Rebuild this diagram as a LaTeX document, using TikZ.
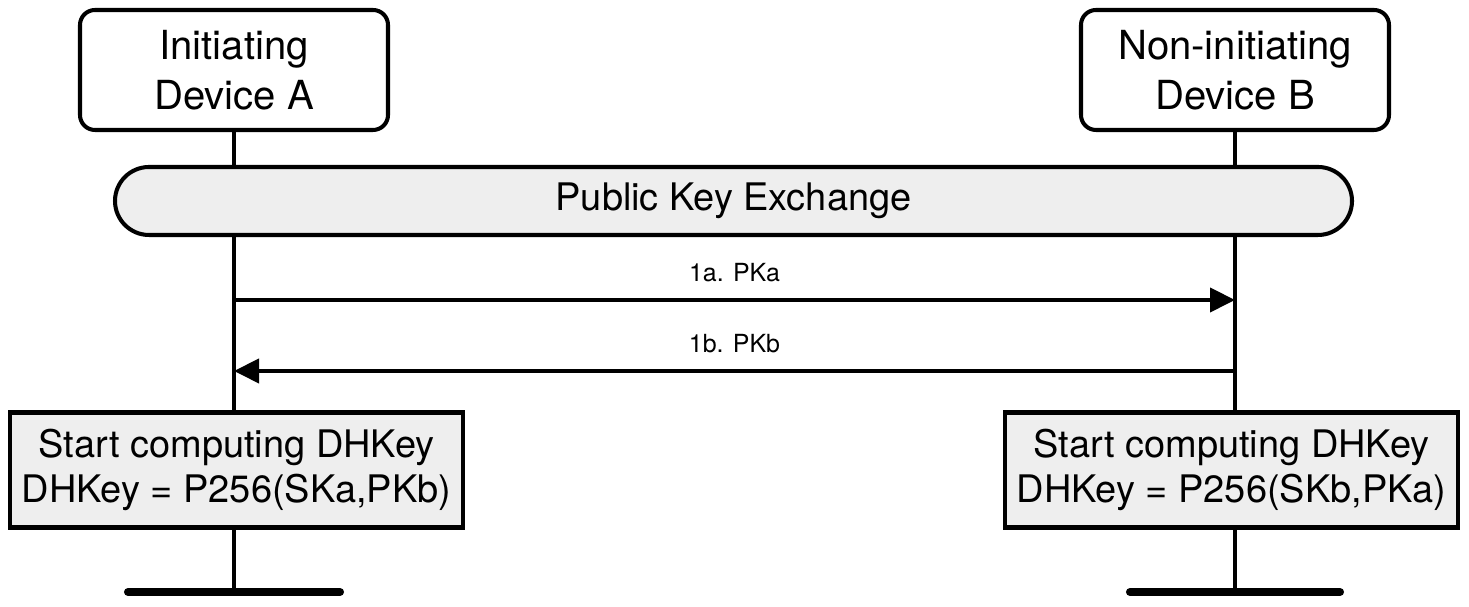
\documentclass[tikz,border=0pt]{standalone}
\usepackage{fontspec}
\setmainfont{TeX Gyre Heros}
\usetikzlibrary{arrows.meta}
\definecolor{boxgrey}{HTML}{EEEEEE}
\tikzset{
  device/.style={draw, line width=1.15pt, rounded corners=0.15cm, fill=white,
    minimum width=3.08cm, minimum height=1.2cm, align=center,
    font=\fontsize{11.4}{14.2}\selectfont},
  phase/.style={draw, line width=1.15pt, rounded corners=0.34cm, fill=boxgrey,
    minimum width=12.37cm, minimum height=0.68cm,
    font=\fontsize{10.8}{14.2}\selectfont},
  action/.style={draw, line width=1.15pt, fill=boxgrey,
    minimum width=4.53cm, minimum height=1.15cm, align=center,
    font=\fontsize{10.8}{12.8}\selectfont},
  msg/.style={line width=1.15pt, -{Triangle[length=0.25cm,width=0.24cm]}},
  lbl/.style={font=\fontsize{7.1}{9}\selectfont, above=0.04cm},
  lifeline/.style={line width=1.15pt},
  stopbar/.style={line width=2.3pt, line cap=round}
}
\begin{document}
\begin{tikzpicture}
\useasboundingbox (0,0) rectangle (14.69,6.07);
% lifelines
\coordinate (endA) at (2.34,0.15);
\coordinate (endB) at (12.35,0.15);
\draw[lifeline] (2.34,5.37) -- (endA);
\draw[lifeline] (12.35,5.37) -- (endB);
% participants
\node[device] (devA) at (2.34,5.37) {Initiating\\Device A};
\node[device] (devB) at (12.35,5.37) {Non-initiating\\Device B};
\node[phase] (pke) at (7.335,4.06) {Public Key Exchange};
% messages
\coordinate (a1) at (2.34,3.07);
\coordinate (b1) at (12.35,3.07);
\coordinate (a2) at (2.34,2.36);
\coordinate (b2) at (12.35,2.36);
\draw[msg] (a1) to node [lbl] {1a. PKa} (b1);
\draw[msg] (b2) to node [lbl] {1b. PKb} (a2);
% computations
\node[action] (compA) at (2.365,1.37) {Start computing DHKey\\DHKey = P256(SKa,PKb)};
\node[action] (compB) at (12.315,1.37) {Start computing DHKey\\DHKey = P256(SKb,PKa)};
% ends
\draw[stopbar] ([xshift=-1.06cm]endA) -- ([xshift=1.06cm]endA);
\draw[stopbar] ([xshift=-1.05cm]endB) -- ([xshift=1.05cm]endB);
\end{tikzpicture}
\end{document}
